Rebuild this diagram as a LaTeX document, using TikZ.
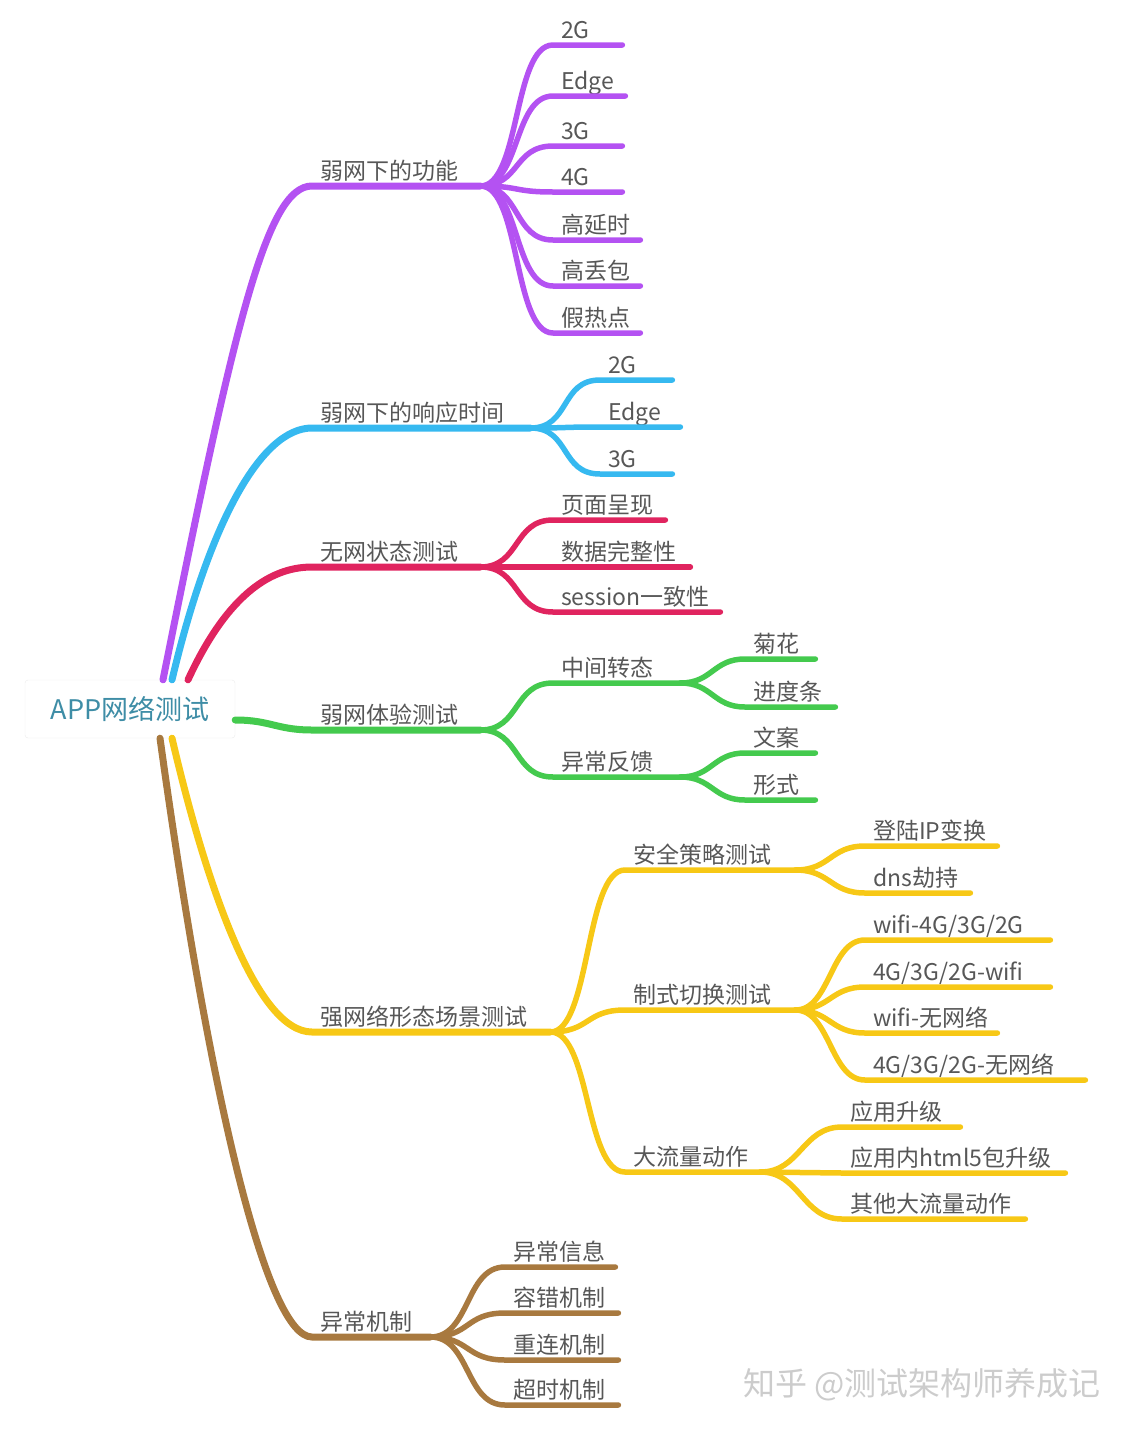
\documentclass[tikz,border=0pt]{standalone}
\usepackage{fontspec}
\setmainfont{Noto Sans CJK SC}
\usepackage{tikz}
\usetikzlibrary{calc}
\definecolor{brpurple}{HTML}{B452F2}
\definecolor{brblue}{HTML}{36B9F0}
\definecolor{brred}{HTML}{E0245F}
\definecolor{brgreen}{HTML}{44CA4E}
\definecolor{bryellow}{HTML}{F7C816}
\definecolor{brbrown}{HTML}{A8793F}
\definecolor{rootteal}{HTML}{3E8DA6}
\definecolor{labelgray}{HTML}{575757}

\begin{document}
\begin{tikzpicture}[
  x=1pt, y=-1pt,
  font=\fontsize{23}{26}\selectfont,
  rootbox/.style={draw=gray!15, fill=white, rounded corners=3pt, minimum width=210pt,
                  minimum height=58pt, text=rootteal, font=\fontsize{27}{30}\selectfont},
  topic/.style={anchor=south west, text width=#1, inner xsep=0pt, inner ysep=4pt,
                text depth=0.25em, align=left, text=labelgray,
                execute at begin node=\hspace*{8pt}},
  trunk/.style={line width=7pt, line cap=round},
  twig/.style={line width=5.5pt, line cap=round},
  fan/.style={to path={.. controls +(#1,0) and +(-#1,0) .. (\tikztotarget)}},
  fan/.default=40,
  credit/.style={text=gray!40, font=\fontsize{32}{35}\selectfont},
]
\useasboundingbox (0,0) rectangle (1140,1432);

% Root
\node[rootbox] (root) at (130,709) {APP网络测试};

% First level
\node[topic=168pt] (fun) at (312,186) {弱网下的功能};
\node[topic=218pt] (resp) at (312,428) {弱网下的响应时间};
\node[topic=168pt] (nonet) at (312,567) {无网状态测试};
\node[topic=168pt] (exp) at (312,730) {弱网体验测试};
\node[topic=238pt] (strong) at (312,1032) {强网络形态场景测试};
\node[topic=118pt] (exc) at (312,1337) {异常机制};

% Weak network functions
\node[topic=69pt] (f2g) at (553,45) {2G};
\node[topic=72pt] (fedge) at (553,96) {Edge};
\node[topic=69pt] (f3g) at (553,146) {3G};
\node[topic=69pt] (f4g) at (553,192) {4G};
\node[topic=87pt] (fdelay) at (553,240) {高延时};
\node[topic=87pt] (floss) at (553,286) {高丢包};
\node[topic=87pt] (ffake) at (553,333) {假热点};

% Response time
\node[topic=72pt] (r2g) at (600,380) {2G};
\node[topic=80pt] (redge) at (600,427) {Edge};
\node[topic=72pt] (r3g) at (600,474) {3G};

% No network
\node[topic=112pt] (npage) at (553,520) {页面呈现};
\node[topic=137pt] (ndata) at (553,567) {数据完整性};
\node[topic=167pt] (nsess) at (553,612) {session一致性};

% Experience
\node[topic=127pt] (emid) at (553,683) {中间转态};
\node[topic=127pt] (efeed) at (553,777) {异常反馈};
\node[topic=70pt] (espin) at (745,659) {菊花};
\node[topic=90pt] (ebar) at (745,707) {进度条};
\node[topic=70pt] (ecopy) at (745,753) {文案};
\node[topic=70pt] (eform) at (745,800) {形式};

% Strong network scenes
\node[topic=170pt] (ssec) at (625,870) {安全策略测试};
\node[topic=170pt] (sswitch) at (625,1010) {制式切换测试};
\node[topic=135pt] (sflow) at (625,1172) {大流量动作};
\node[topic=132pt] (sip) at (865,846) {登陆IP变换};
\node[topic=105pt] (sdns) at (865,893) {dns劫持};
\node[topic=185pt] (sw1) at (865,940) {wifi-4G/3G/2G};
\node[topic=185pt] (sw2) at (865,987) {4G/3G/2G-wifi};
\node[topic=132pt] (sw3) at (865,1033) {wifi-无网络};
\node[topic=220pt] (sw4) at (865,1080) {4G/3G/2G-无网络};
\node[topic=118pt] (sup1) at (842,1127) {应用升级};
\node[topic=223pt] (sup2) at (842,1173) {应用内html5包升级};
\node[topic=183pt] (sup3) at (842,1219) {其他大流量动作};

% Exception handling
\node[topic=110pt] (xinfo) at (505,1267) {异常信息};
\node[topic=113pt] (xfault) at (505,1313) {容错机制};
\node[topic=113pt] (xconn) at (505,1360) {重连机制};
\node[topic=113pt] (xtime) at (505,1405) {超时机制};

% Trunks
\draw[trunk, brpurple] ([xshift=33pt]root.north) .. controls +(72,-360) and +(-45,0) .. (fun.south west) -- (fun.south east);
\draw[trunk, brblue] ([xshift=42pt]root.north) .. controls +(38,-160) and +(-50,0) .. (resp.south west) -- (resp.south east);
\draw[trunk, brred] ([xshift=58pt]root.north) .. controls +(37,-80) and +(-45,0) .. (nonet.south west) -- (nonet.south east);
\draw[trunk, brgreen] ([yshift=-11pt]root.east) .. controls +(35,0) and +(-35,0) .. (exp.south west) -- (exp.south east);
\draw[trunk, bryellow] ([xshift=42pt]root.south) .. controls +(35,150) and +(-55,0) .. (strong.south west) -- (strong.south east);
\draw[trunk, brbrown] ([xshift=30pt]root.south) .. controls +(50,362) and +(-45,0) .. (exc.south west) -- (exc.south east);

% Twigs
\foreach \c in {f2g,fedge,f3g,f4g,fdelay,floss,ffake}
  \draw[twig, brpurple] (fun.south east) to[fan] (\c.south west) -- (\c.south east);
\foreach \c in {r2g,redge,r3g}
  \draw[twig, brblue] (resp.south east) to[fan] (\c.south west) -- (\c.south east);
\foreach \c in {npage,ndata,nsess}
  \draw[twig, brred] (nonet.south east) to[fan] (\c.south west) -- (\c.south east);
\foreach \c in {emid,efeed}
  \draw[twig, brgreen] (exp.south east) to[fan] (\c.south west) -- (\c.south east);
\foreach \c in {espin,ebar}
  \draw[twig, brgreen] (emid.south east) to[fan=32] (\c.south west) -- (\c.south east);
\foreach \c in {ecopy,eform}
  \draw[twig, brgreen] (efeed.south east) to[fan=32] (\c.south west) -- (\c.south east);
\foreach \c in {ssec,sswitch,sflow}
  \draw[twig, bryellow] (strong.south east) to[fan] (\c.south west) -- (\c.south east);
\foreach \c in {sip,sdns}
  \draw[twig, bryellow] (ssec.south east) to[fan=35] (\c.south west) -- (\c.south east);
\foreach \c in {sw1,sw2,sw3,sw4}
  \draw[twig, bryellow] (sswitch.south east) to[fan=35] (\c.south west) -- (\c.south east);
\foreach \c in {sup1,sup2,sup3}
  \draw[twig, bryellow] (sflow.south east) to[fan] (\c.south west) -- (\c.south east);
\foreach \c in {xinfo,xfault,xconn,xtime}
  \draw[twig, brbrown] (exc.south east) to[fan] (\c.south west) -- (\c.south east);

% Watermark
\node[credit] (zhihu) at (922,1385) {知乎 @测试架构师养成记};

\end{tikzpicture}
\end{document}
